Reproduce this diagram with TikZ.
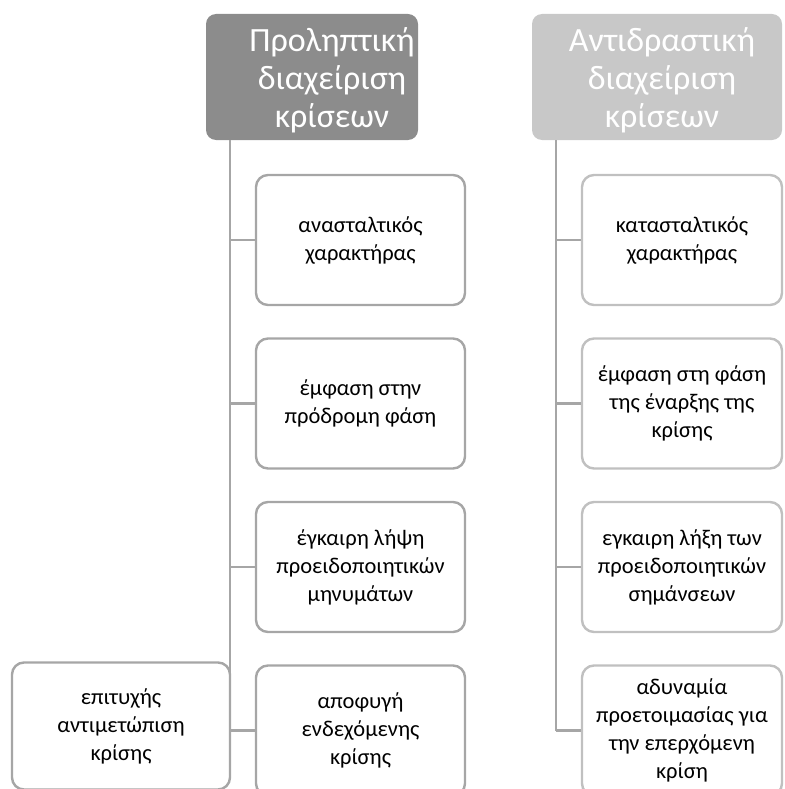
\documentclass[tikz,border=0pt]{standalone}
\usepackage{fontspec}
\setmainfont{Carlito}
\definecolor{headdark}{RGB}{140,140,140}
\definecolor{headlight}{RGB}{200,200,200}
\definecolor{linedark}{RGB}{166,166,166}
\definecolor{linelight}{RGB}{192,192,192}
\begin{document}
\begin{tikzpicture}[x = 1pt, y = -1pt]
		\tikzstyle{every node} = [font = \fontsize{22.5}{28}\selectfont, align = center]
		\tikzstyle{head} = [rounded corners = 10, minimum height = 126, inner sep = 0]
		\tikzstyle{headtext} = [text = white, font = \fontsize{34}{38}\selectfont]
		\tikzstyle{item} = [draw, rounded corners = 12, line width = 2.4, fill = white, minimum height = 130, inner sep = 0]
		\tikzstyle{trunk} = [line width = 2.4]
		\useasboundingbox (0,0) rectangle (784,789);

		% headers
		\node [head, fill = headdark, minimum width = 212] (pro) at (312,77) {};
		\node [headtext, xshift = 20, yshift = -3] (protext) at (pro.center) {Προληπτική\\διαχείριση\\κρίσεων};
		\node [head, fill = headlight, minimum width = 250] (anti) at (657,77) {};
		\node [headtext, xshift = 5, yshift = -3] (antitext) at (anti.center) {Αντιδραστική\\διαχείριση\\κρίσεων};

		\coordinate (ptrunk) at (230,140);
		\coordinate (atrunk) at (556,140);

		% left column
		\foreach \t [count = \i] in {{ανασταλτικός\\χαρακτήρας}, {έμφαση στην\\πρόδρομη φάση}, {έγκαιρη λήψη\\προειδοποιητικών\\μηνυμάτων}, {αποφυγή\\ενδεχόμενης\\κρίσης}}
		{
			\node [item, draw = linedark, minimum width = 209] (p\i) at (360.5,{240+163.5*(\i-1)}) {\t};
			\draw [trunk, linedark] (ptrunk |- p\i.west) -- (p\i.west);
		}
		\draw [trunk, linedark] (ptrunk) -- (ptrunk |- p4.west);

		% right column
		\foreach \t [count = \i] in {{κατασταλτικός\\χαρακτήρας}, {έμφαση στη φάση\\της έναρξης της\\κρίσης}, {εγκαιρη λήξη των\\προειδοποιητικών\\σημάνσεων}, {αδυναμία\\προετοιμασίας για\\την επερχόμενη\\κρίση}}
		{
			\node [item, draw = linelight, minimum width = 200] (a\i) at (682,{240+163.5*(\i-1)}) {\t};
			\draw [trunk, linedark] (atrunk |- a\i.west) -- (a\i.west);
		}
		\draw [trunk, linedark] (atrunk) -- (atrunk |- a4.west);

		% outcome box
		\node [item, draw = linedark, minimum width = 218, minimum height = 127] (succ) at (121,726) {επιτυχής\\αντιμετώπιση\\κρίσης};
	\end{tikzpicture}
\end{document}
